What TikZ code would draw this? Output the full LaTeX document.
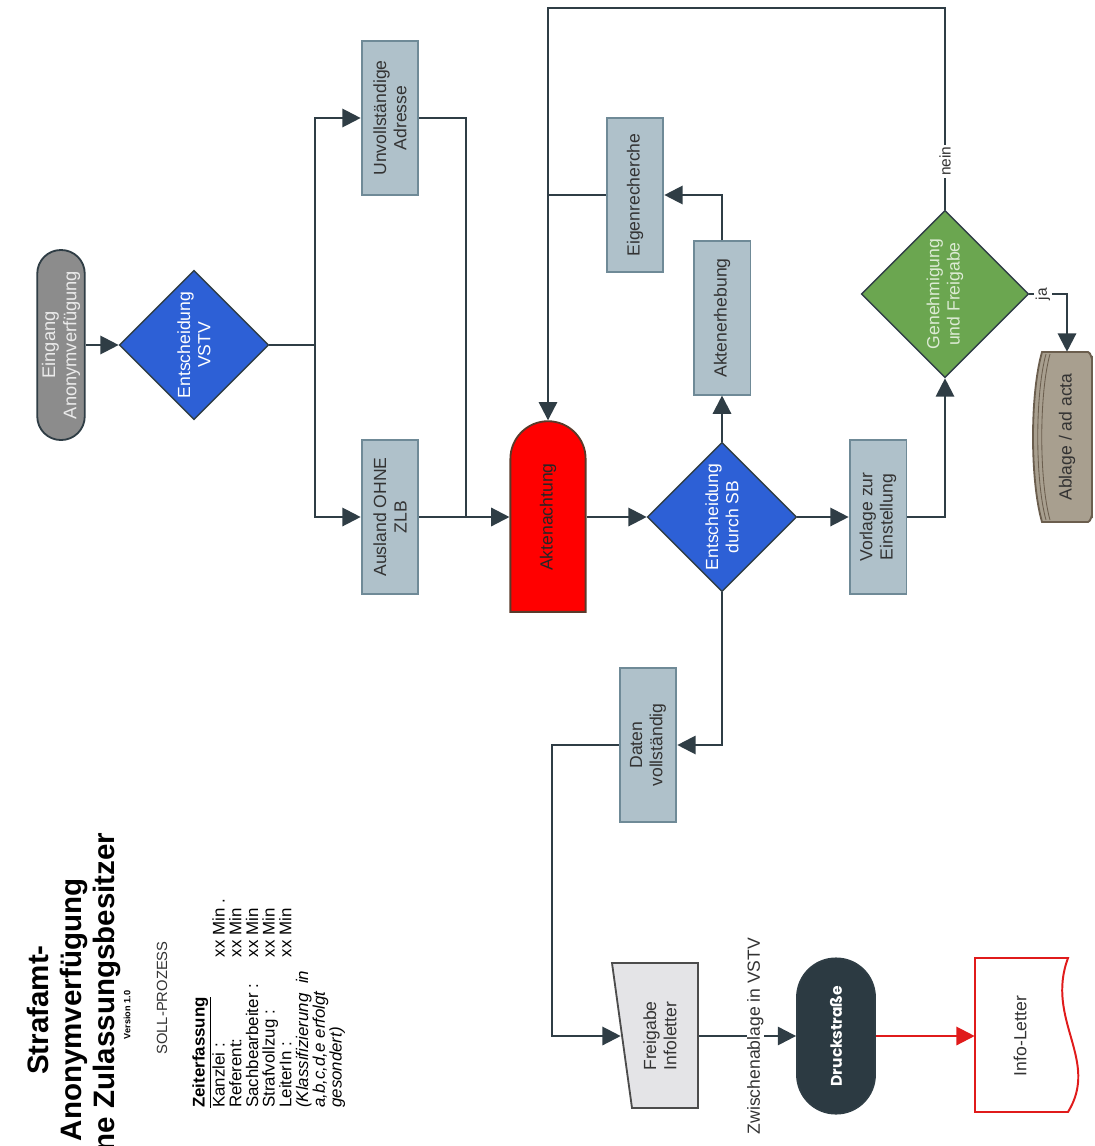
\documentclass[tikz,border=0pt]{standalone}
\usepackage{fontspec}
\setmainfont{Liberation Sans}
\newfontfamily\druckfont{Poppins}
\usetikzlibrary{shapes.geometric, shapes.misc, arrows.meta, positioning, calc}
\definecolor{linie}{HTML}{2F3D45}
\definecolor{schrift}{HTML}{333333}
\definecolor{boxgrau}{HTML}{AFC1CA}
\definecolor{boxrand}{HTML}{6F8A97}
\definecolor{blau}{HTML}{2D60D6}
\definecolor{gruen}{HTML}{6BA650}
\definecolor{gruenschrift}{HTML}{DDEBD5}
\definecolor{eingangsgrau}{HTML}{8C8C8C}
\definecolor{aktenrand}{HTML}{5A3A2A}
\definecolor{ablagegrau}{HTML}{A89F8F}
\definecolor{ablagerand}{HTML}{6B5E4E}
\definecolor{dunkel}{HTML}{2C3A42}
\definecolor{infrot}{HTML}{E01B1B}
\definecolor{freigrau}{HTML}{E4E4E7}

\begin{document}
\begin{tikzpicture}[
    x=0.025cm, y=-0.025cm,
    every node/.style={font=\fontsize{12.5}{14.5}\selectfont, align=center},
    block/.style={rectangle, draw=boxrand, line width=1.3pt, fill=boxgrau, text=schrift, rotate=90, minimum width=3.83cm, minimum height=1.42cm, inner sep=1pt},
    entscheid/.style={diamond, draw=linie, line width=1pt, fill=blau, text=white, rotate=90, inner sep=0pt, minimum width=3.73cm, minimum height=3.73cm},
    arrow/.style={line width=1.6pt, draw=linie, -{Triangle[length=13pt, width=13pt]}},
    conn/.style={line width=1.6pt, draw=linie},
    lbl/.style={fill=white, rotate=90, inner sep=1.5pt, font=\fontsize{11}{13}\selectfont, text=schrift}
]
    \useasboundingbox (0,0) rectangle (1094,1146);
    \clip (0,0) rectangle (1094,1146);

    % titel
    \node [rotate=90, font=\fontsize{21}{23.5}\selectfont\bfseries] (titel) at (74,1010) {Strafamt-\\Anonymverfügung\\ohne Zulassungsbesitzer};
    \node [rotate=90, font=\fontsize{6.5}{7}\selectfont\bfseries] (version) at (127,1015) {Version 1.0};
    \node [rotate=90, font=\fontsize{10.5}{12}\selectfont, text=schrift] (soll) at (162,998) {SOLL-PROZESS};
    \node [rotate=90, anchor=north west, align=left, inner sep=0pt, font=\fontsize{12}{11.9}\selectfont] (zeit) at (192,1108) {\textbf{\underline{Zeiterfassung}}\\
        \makebox[107pt][l]{Kanzlei :}xx Min .\\
        \makebox[107pt][l]{Referent:}xx Min\\
        \makebox[107pt][l]{Sachbearbeiter :}xx Min\\
        \makebox[107pt][l]{Strafvollzug :}xx Min\\
        \makebox[107pt][l]{LeiterIn :}xx Min\\
        \textit{(Klassifizierung\ \ in}\\
        \textit{a,b,c,d,e erfolgt}\\
        \textit{gesondert)}};

    % obere reihe
    \node [rectangle, rounded corners=0.59cm, draw=linie, line width=1.3pt, fill=eingangsgrau, text=white!92!black, rotate=90, minimum width=4.75cm, minimum height=1.18cm, font=\fontsize{13}{15}\selectfont] (eingang) at (61,345) {Eingang\\Anonymverfügung};
    \node [entscheid] (vstv) at (194,345) {Entscheidung\\VSTV};
    \node [block] (unvoll) at (390,118) {Unvollständige\\Adresse};
    \node [block] (ausland) at (390,517) {Ausland OHNE\\ZLB};
    \node [rounded rectangle, rounded rectangle west arc=none, draw=aktenrand, line width=1.3pt, fill=red, text=black!85, rotate=90, minimum width=5cm, minimum height=1.88cm] (akten) at (548,517) {Aktenachtung};
    \node [entscheid] (sb) at (722,517) {Entscheidung\\durch SB};
    \node [block] (eigen) at (635,195) {Eigenrecherche};
    \node [block] (erhebung) at (722,318) {Aktenerhebung};
    \node [block] (vorlage) at (878,517) {Vorlage zur\\Einstellung};
    \node [entscheid, fill=gruen, text=gruenschrift, minimum width=4.18cm, minimum height=4.18cm] (genehm) at (945,294) {Genehmigung\\und Freigabe};

    % ablage
    \draw [draw=ablagerand, fill=ablagegrau, line width=1.3pt] (1042,352) -- (1088,352) to[out=0, in=-90] (1092,358) -- (1092,516) to[out=90, in=0] (1088,522) -- (1042,522) .. controls (1030,480) and (1030,394) .. (1042,352) -- cycle;
    \draw [ablagerand, line width=0.6pt] (1046,354) .. controls (1035,394) and (1035,480) .. (1046,520);
    \draw [ablagerand, line width=0.6pt] (1050,354) .. controls (1039,394) and (1039,480) .. (1050,520);
    \node [rotate=90, minimum width=4.25cm, minimum height=1.4cm, text=schrift] (ablage) at (1067,437) {Ablage / ad acta};

    % untere reihe
    \node [block] (daten) at (648,745) {Daten\\vollständig};
    \draw [draw=black!70, fill=freigrau, line width=1.3pt] (612,963) -- (698,963) -- (698,1108) -- (632,1108) -- cycle;
    \node [rotate=90, minimum width=3.63cm, minimum height=1.95cm, text=schrift] (freigabe) at (660,1036) {Freigabe\\Infoletter};
    \node [rectangle, rounded corners=0.97cm, draw=linie, line width=1.3pt, fill=dunkel, text=white, rotate=90, minimum width=3.88cm, minimum height=1.95cm, font=\druckfont\bfseries\fontsize{11}{13}\selectfont] (druck) at (836,1036) {Druckstraße};
    \draw [draw=infrot, fill=white, line width=1.4pt] (975,958) -- (1068,958) .. controls (1045,1020) and (1100,1060) .. (1068,1112) -- (975,1112) -- cycle;
    \node [rotate=90, minimum width=3.85cm, minimum height=2.25cm, text=schrift] (info) at (1020,1036) {Info-Letter};

    % hilfspunkte
    \coordinate (gabel) at (315,345);
    \coordinate (zusammen) at (466,517);
    \coordinate (obenrechts) at (945,8);
    \coordinate (knick) at (552,745);

    % verbindungen
    \draw [arrow] (eingang.south) -- (vstv.north);
    \draw [conn] (vstv.south) -- (gabel);
    \draw [arrow] (gabel) |- (unvoll.north);
    \draw [arrow] (gabel) |- (ausland.north);
    \draw [conn] (unvoll.south) -| (zusammen);
    \draw [arrow] (ausland.south) -- (akten.north);
    \draw [arrow] (akten.south) -- (sb.north);
    \draw [arrow] (sb.east) -- (erhebung.west);
    \draw [arrow] (erhebung.east) |- (eigen.south);
    \draw [conn] (eigen.north) -- (eigen.north -| akten.east);
    \draw [arrow] (sb.south) -- (vorlage.north);
    \draw [arrow] (vorlage.south) -| (genehm.west);
    \draw [arrow] (genehm.east) -- node [lbl, pos=0.24] {nein} (obenrechts) -| (akten.east);
    \draw [arrow] (genehm.south) -| node [lbl, pos=0.18] {ja} (ablage.east);
    \draw [arrow] (sb.west) |- (daten.south);
    \draw [arrow] (daten.north) -- (knick) |- (freigabe.north);
    \draw [arrow] (freigabe.south) -- node [lbl, pos=0.58, font=\fontsize{12.5}{14.5}\selectfont, inner sep=0pt] {Zwischenablage in VSTV} (druck.north);
    \draw [arrow, draw=infrot, fill=infrot] (druck.south) -- (info.north);
\end{tikzpicture}
\end{document}
